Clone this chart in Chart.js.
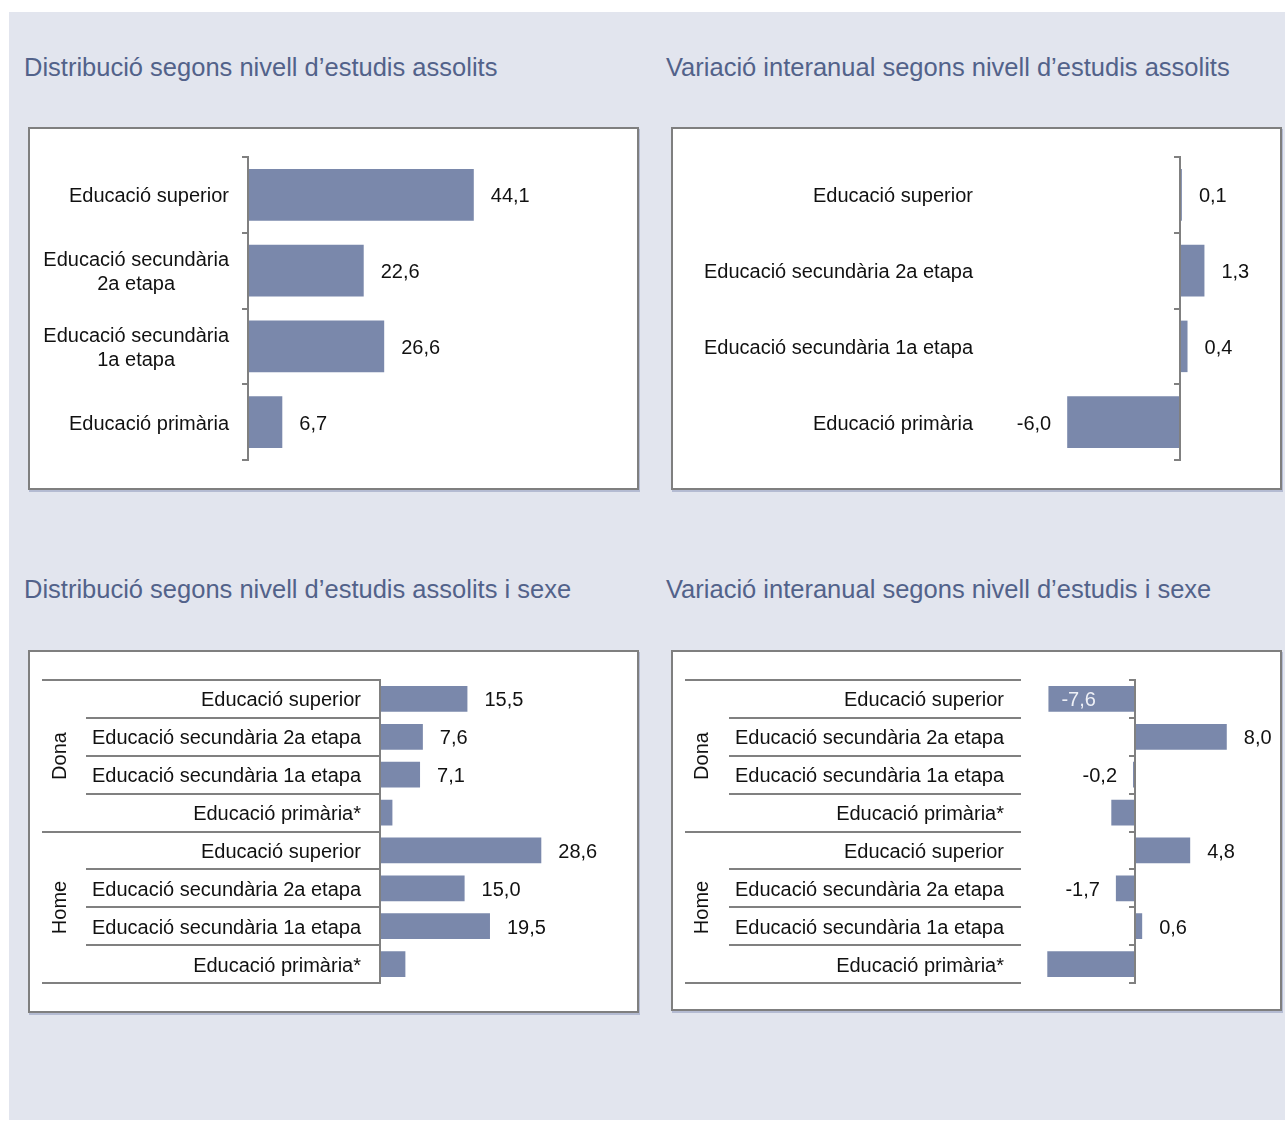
<!DOCTYPE html>
<html><head><meta charset="utf-8">
<script src="https://cdn.jsdelivr.net/npm/chart.js@4.4.1/dist/chart.umd.min.js"></script>
<style>
body{margin:0;background:#fff;width:1285px;height:1122px;position:relative;overflow:hidden;font-family:"Liberation Sans",Arial,sans-serif;}
#bg{position:absolute;left:9px;top:12px;width:1276px;height:1108px;background:#e2e5ee;}
.title{position:absolute;font-size:25.5px;color:#52628a;white-space:nowrap;line-height:29px;}
.panel{position:absolute;background:#fff;border:2px solid #7f7f7f;box-sizing:border-box;box-shadow:1px 2px 0 #b4bbd2;}
.panel canvas{position:absolute;left:0;top:0;}
</style></head>
<body>
<div id="bg"></div>
<div class="title" style="left:24px;top:53px">Distribució segons nivell d’estudis assolits</div>
<div class="title" style="left:666px;top:53px">Variació interanual segons nivell d’estudis assolits</div>
<div class="title" style="left:24px;top:575px">Distribució segons nivell d’estudis assolits i sexe</div>
<div class="title" style="left:666px;top:575px">Variació interanual segons nivell d’estudis i sexe</div>
<div class="panel" style="left:28px;top:127px;width:611px;height:363px"><canvas id="c1" width="607" height="359"></canvas></div>
<div class="panel" style="left:671px;top:127px;width:611px;height:363px"><canvas id="c2" width="607" height="359"></canvas></div>
<div class="panel" style="left:28px;top:650px;width:611px;height:363px"><canvas id="c3" width="607" height="359"></canvas></div>
<div class="panel" style="left:671px;top:650px;width:611px;height:361px"><canvas id="c4" width="607" height="357"></canvas></div>
<script>
// ---- data ----
const catsTotal = ['Educació superior', 'Educació secundària 2a etapa', 'Educació secundària 1a etapa', 'Educació primària'];
const catsTotalWrapped = [['Educació superior'], ['Educació secundària', '2a etapa'], ['Educació secundària', '1a etapa'], ['Educació primària']];
const distTotal = [44.1, 22.6, 26.6, 6.7];
const varTotal = [0.1, 1.3, 0.4, -6.0];
const groups = ['Dona', 'Home'];
const catsSex = ['Educació superior', 'Educació secundària 2a etapa', 'Educació secundària 1a etapa', 'Educació primària*'];
const distDona = [15.5, 7.6, 7.1, 2.2];
const distHome = [28.6, 15.0, 19.5, 4.5];
const varDona = [-7.6, 8.0, -0.2, -2.1];
const varHome = [4.8, -1.7, 0.6, -7.7];

const BAR = '#7a88ab';
const LINE = '#808080';
const FONT = '20px "Liberation Sans", Arial, sans-serif';
const DY = 2;
const fmt = v => v.toFixed(1).replace('.', ',');

const decor = {
  id: 'decor',
  afterDatasetsDraw(chart, args, o) {
    const {ctx, chartArea: ca, scales: {x, y}} = chart;
    const labels = chart.data.labels;
    const n = labels.length;
    const x0 = Math.round(x.getPixelForValue(0));
    const bnd = i => Math.round(y.getPixelForValue(i - 0.5));
    const line = (a, b, c, d) => { ctx.beginPath(); ctx.moveTo(a, b); ctx.lineTo(c, d); ctx.stroke(); };
    ctx.save();
    ctx.strokeStyle = LINE; ctx.lineWidth = 2; ctx.lineCap = 'butt';
    if (o.groupSize) {
      for (let i = 0; i <= n; i++) {
        const xs = (i % o.groupSize === 0) ? o.groupLineX : o.innerLineX;
        line(xs, bnd(i), ca.left, bnd(i));
      }
    }
    line(x0, bnd(0) - 1, x0, bnd(n) + 1);
    for (let i = 0; i <= n; i++) line(x0 - 6, bnd(i), x0, bnd(i));
    // category labels
    ctx.font = FONT; ctx.fillStyle = '#111'; ctx.textBaseline = 'middle';
    const right = ca.left - o.labelGap;
    labels.forEach((lab, i) => {
      const lines = Array.isArray(lab) ? lab : [lab];
      const w = Math.max(...lines.map(l => ctx.measureText(l).width));
      const cy = y.getPixelForValue(i) + DY;
      ctx.textAlign = 'center';
      lines.forEach((l, k) => ctx.fillText(l, right - w / 2, cy + (k - (lines.length - 1) / 2) * 24));
    });
    // value labels
    const vals = chart.data.datasets[0].data;
    chart.getDatasetMeta(0).data.forEach((bar, i) => {
      const lab = Array.isArray(labels[i]) ? labels[i].join(' ') : labels[i];
      if (lab.endsWith('*')) return;
      const v = vals[i], t = fmt(v), w = ctx.measureText(t).width;
      const cy = bar.y + DY;
      if (v >= 0) {
        ctx.textAlign = 'left'; ctx.fillStyle = '#111';
        ctx.fillText(t, bar.x + 17, cy);
      } else if (bar.x - 16 - w < ca.left) {
        ctx.textAlign = 'left'; ctx.fillStyle = '#eef0f6';
        ctx.fillText(t, bar.x + 13, cy);
      } else {
        ctx.textAlign = 'right'; ctx.fillStyle = '#111';
        ctx.fillText(t, bar.x - 16, cy);
      }
    });
    // group labels
    if (o.groups) {
      ctx.fillStyle = '#111'; ctx.textAlign = 'center';
      o.groups.forEach((g, k) => {
        const cy = (bnd(k * o.groupSize) + bnd((k + 1) * o.groupSize)) / 2;
        ctx.save(); ctx.translate(o.groupX + DY, cy); ctx.rotate(-Math.PI / 2);
        ctx.fillText(g, 0, 0); ctx.restore();
      });
    }
    ctx.restore();
  }
};

function make(id, labels, values, min, max, pad, extra) {
  return new Chart(document.getElementById(id), {
    type: 'bar',
    data: { labels, datasets: [{ data: values, backgroundColor: BAR, borderWidth: 0, barPercentage: 0.68, categoryPercentage: 1 }] },
    options: {
      indexAxis: 'y', responsive: false, animation: false,
      layout: { padding: pad },
      plugins: { legend: { display: false }, tooltip: { enabled: false }, decor: Object.assign({ labelGap: 19 }, extra) },
      scales: {
        x: { type: 'linear', display: false, min, max },
        y: { type: 'category', display: false }
      }
    },
    plugins: [decor]
  });
}

make('c1', catsTotalWrapped, distTotal, 0, 70, { left: 218, right: 30.6, top: 28, bottom: 28 }, {});
make('c2', catsTotal, varTotal, -10, 5, { left: 319, right: 6, top: 28, bottom: 28 }, {});
const sexLabels = groups.flatMap(() => catsSex);
make('c3', sexLabels, distDona.concat(distHome), 0, 40, { left: 350, right: 31.4, top: 28, bottom: 28 },
  { groupSize: 4, groups, groupLineX: 12, innerLineX: 56, groupX: 28 });
make('c4', sexLabels, varDona.concat(varHome), -10, 12, { left: 348, right: 7.5, top: 28, bottom: 26 },
  { groupSize: 4, groups, groupLineX: 12, innerLineX: 56, groupX: 27, labelGap: 17 });
</script>
</body></html>
